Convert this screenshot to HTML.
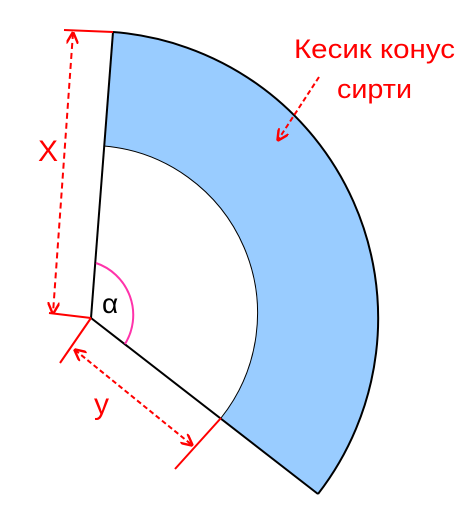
<!DOCTYPE html>
<html><head><meta charset="utf-8"><style>
html,body{margin:0;padding:0;background:#fff;}
svg{display:block;}
text{font-family:"Liberation Sans","DejaVu Sans",sans-serif;}
</style></head><body>
<svg width="475" height="525" viewBox="0 0 475 525" xmlns="http://www.w3.org/2000/svg">
<defs>
<marker id="ah" viewBox="0 0 10 10" refX="9" refY="5" markerWidth="6" markerHeight="6" orient="auto-start-reverse">
<path d="M0,0 L10,5 L0,10" fill="none" stroke="#f00" stroke-width="2"/>
</marker>
</defs>
<path d="M113,32 A287,287 0 0 1 318,494 L221,418 A168,168 0 0 0 104,146 Z" fill="#99ccff" stroke="none"/>
<path d="M113,32 A287,287 0 0 1 318,494" fill="none" stroke="#000" stroke-width="2"/>
<path d="M104,146 A168,168 0 0 1 221,418" fill="none" stroke="#000" stroke-width="1"/>
<line x1="91" y1="318" x2="113" y2="32" stroke="#000" stroke-width="2"/>
<line x1="91" y1="318" x2="318" y2="494" stroke="#000" stroke-width="2"/>
<path d="M96,263 A55,55 0 0 1 125,344" fill="none" stroke="#ff33aa" stroke-width="2"/>
<text x="102" y="313" font-size="28" fill="#000">α</text>
<line x1="64" y1="30" x2="113" y2="32" stroke="#f00" stroke-width="2"/>
<line x1="49" y1="313" x2="91" y2="318" stroke="#f00" stroke-width="2"/>
<line x1="73" y1="33" x2="53" y2="313" stroke="#f00" stroke-width="2" stroke-dasharray="6,4" marker-start="url(#ah)" marker-end="url(#ah)"/>
<text x="38" y="161" font-size="30" fill="#f00">X</text>
<line x1="91" y1="318" x2="60" y2="363" stroke="#f00" stroke-width="2"/>
<line x1="221" y1="418" x2="175" y2="469" stroke="#f00" stroke-width="2"/>
<line x1="75" y1="350" x2="192" y2="445" stroke="#f00" stroke-width="2" stroke-dasharray="5,3" marker-start="url(#ah)" marker-end="url(#ah)"/>
<text x="94" y="414" font-size="30" fill="#f00">y</text>
<text x="294" y="58" font-size="27" fill="#f00" textLength="161" lengthAdjust="spacingAndGlyphs">Кесик конус</text>
<text x="337" y="98" font-size="27" fill="#f00" textLength="75" lengthAdjust="spacingAndGlyphs">сирти</text>
<line x1="319" y1="77" x2="278" y2="140" stroke="#f00" stroke-width="2" stroke-dasharray="5,3" marker-end="url(#ah)"/>
</svg>
</body></html>
